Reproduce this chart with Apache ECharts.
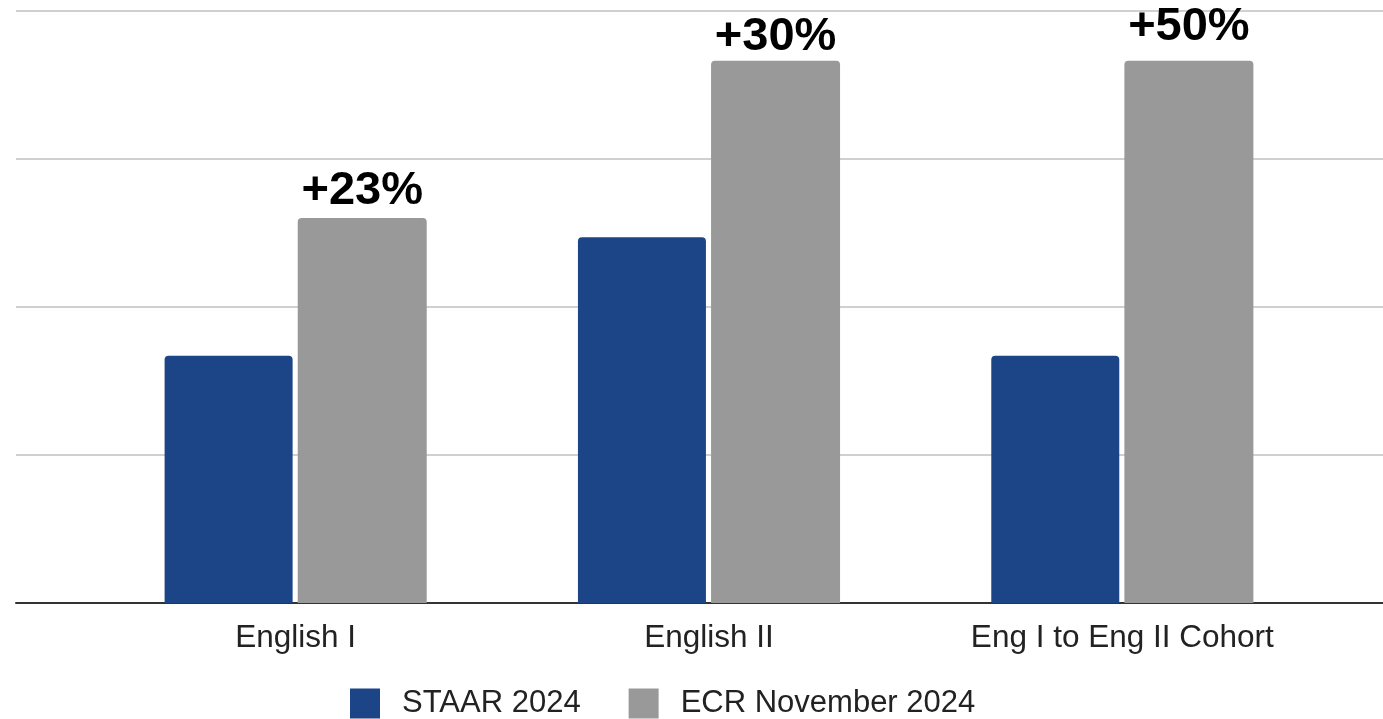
<!DOCTYPE html>
<html>
<head>
<meta charset="utf-8">
<title>STAAR vs ECR</title>
<script src="https://cdn.jsdelivr.net/npm/echarts@6/dist/echarts.min.js"></script>
<style>
  html, body { margin: 0; padding: 0; background: #fff; }
  #chart { width: 1383px; height: 719px; }
</style>
</head>
<body>
<div id="chart"></div>
<script>
// 类别
let categories = ['English I', 'English II', 'Eng I to Eng II Cohort'];
// 系列名
let seriesNames = ['STAAR 2024', 'ECR November 2024'];
// 数据 (grid unit = 1)
let staar = [1.67, 2.47, 1.67];
let ecr = [2.60, 3.66, 3.66];
// 增幅标签
let gains = ['+23%', '+30%', '+50%'];
// 标签上移 (px)
let gainLift = [3, 0, 10];

// 字体
let font = "'Liberation Sans', Arial, sans-serif";

let chart = echarts.init(document.getElementById('chart'));

// 增幅标签数据
function ecrData() {
  let arr = [];
  ecr.map((v, i) => {
    arr.push({
      value: v,
      label: { formatter: gains[i], offset: [0, -gainLift[i]] }
    });
  });
  return arr;
}

let option = {
  color: ['#1c4587', '#999999'],
  animation: false,
  textStyle: { fontFamily: font },
  grid: [
    // 背景网格线 (full width)
    { left: 16, right: 0, top: 10.5, bottom: 116 },
    // 柱子
    { left: 89, right: 54, top: 10.5, bottom: 116 }
  ],
  legend: {
    top: 683,
    left: 345,
    itemWidth: 30,
    itemHeight: 30,
    itemGap: 48,
    icon: 'rect',
    data: seriesNames,
    textStyle: {
      fontFamily: font,
      fontSize: 31,
      color: '#222',
      padding: [0, 0, 0, 17]
    }
  },
  xAxis: [
    {
      gridIndex: 0,
      type: 'value',
      show: true,
      min: 0,
      max: 1,
      axisLine: { show: true, onZero: false, lineStyle: { color: '#333', width: 2 } },
      axisTick: { show: false },
      axisLabel: { show: false },
      splitLine: { show: false }
    },
    {
      gridIndex: 1,
      type: 'category',
      data: categories,
      axisLine: { show: false },
      axisTick: { show: false },
      axisLabel: { fontFamily: font, fontSize: 31.5, color: '#222', margin: 19 }
    }
  ],
  yAxis: [
    {
      gridIndex: 0,
      type: 'value',
      min: 0,
      max: 4,
      interval: 1,
      axisLine: { show: false },
      axisTick: { show: false },
      axisLabel: { show: false },
      splitLine: { lineStyle: { color: '#d0d0d0', width: 2 } }
    },
    {
      gridIndex: 1,
      type: 'value',
      min: 0,
      max: 4,
      interval: 1,
      show: false,
      splitLine: { show: false }
    }
  ],
  series: [
    {
      name: seriesNames[0],
      type: 'bar',
      xAxisIndex: 1,
      yAxisIndex: 1,
      barWidth: 128,
      barGap: '4%',
      data: staar,
      itemStyle: { borderRadius: [4, 4, 0, 0] }
    },
    {
      name: seriesNames[1],
      type: 'bar',
      xAxisIndex: 1,
      yAxisIndex: 1,
      barWidth: 129,
      data: ecrData(),
      itemStyle: { borderRadius: [4, 4, 0, 0] },
      label: {
        show: true,
        position: 'top',
        distance: 0,
        fontFamily: font,
        fontSize: 47,
        fontWeight: 'bold',
        color: '#000'
      }
    }
  ]
};
chart.setOption(option);
</script>
</body>
</html>
